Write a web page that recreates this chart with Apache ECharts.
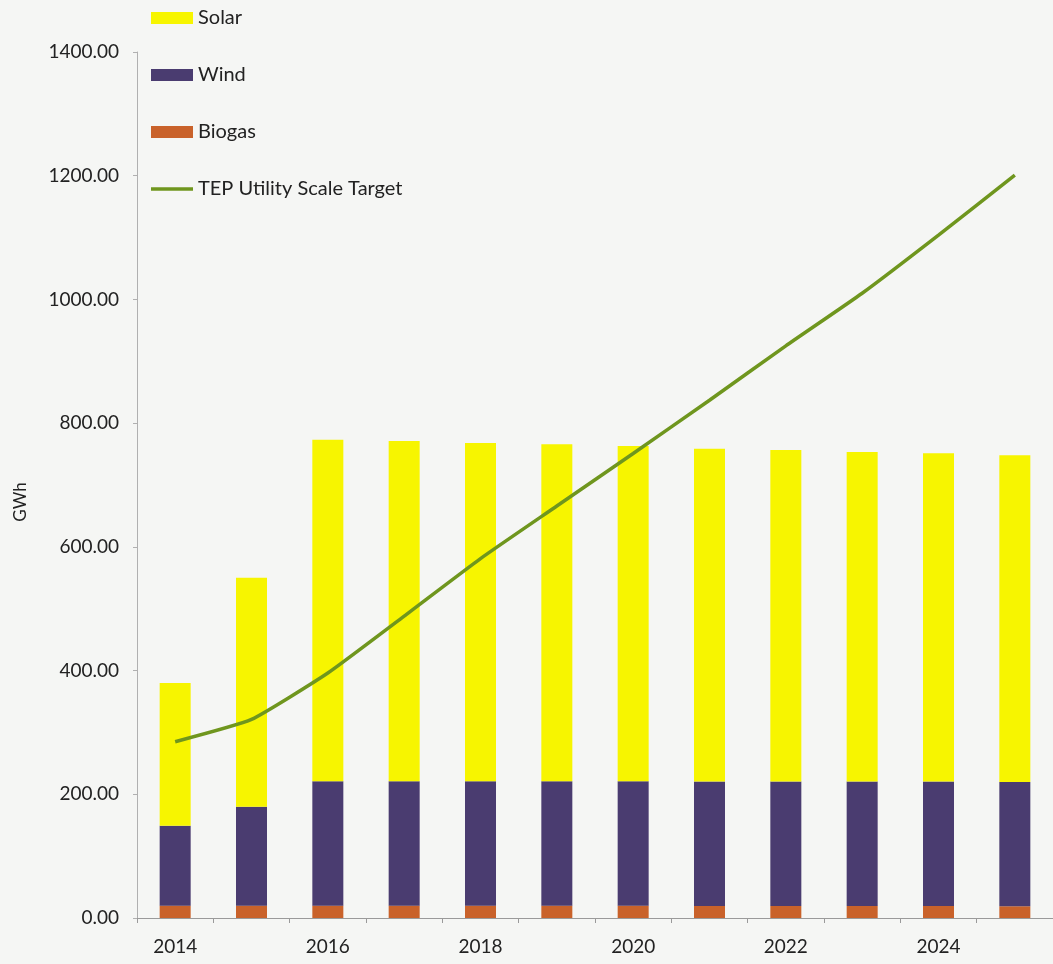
<!DOCTYPE html>
<html>
<head>
<meta charset="utf-8">
<script src="https://cdn.jsdelivr.net/npm/echarts@6/dist/echarts.min.js"></script>
<style>
  html, body { margin: 0; padding: 0; background: #f5f6f4; }
  #chart { width: 1053px; height: 964px; }
</style>
</head>
<body>
<div id="chart"></div>
<script>
const years = ['2014', '2015', '2016', '2017', '2018', '2019', '2020', '2021', '2022', '2023', '2024', '2025']
const biogas = [20, 20, 20, 20, 20, 20, 20, 19.5, 19.5, 19.5, 19.5, 19]
const wind = [129, 160, 201, 201, 201, 201, 201, 201, 201, 201, 201, 201]
const solar = [231, 370, 552, 550, 547, 545, 542, 538, 536, 533, 531, 528]
const target = [285, 321, 396, 488, 581, 666, 751, 837, 925, 1010, 1104, 1201]

const font = 'Lato, "Open Sans", sans-serif'
const myChart = echarts.init(document.getElementById('chart'))

myChart.setOption({
  backgroundColor: '#f5f6f4',
  animation: false,
  textStyle: { fontFamily: font, color: '#222' },
  legend: {
    orient: 'vertical',
    left: 151,
    top: 8,
    padding: 0,
    itemWidth: 42,
    itemHeight: 12,
    itemGap: 37,
    textStyle: { fontSize: 20, color: '#222', fontFamily: font },
    data: [
      { name: 'Solar', icon: 'rect' },
      { name: 'Wind', icon: 'rect' },
      { name: 'Biogas', icon: 'rect' },
      { name: 'TEP Utility Scale Target', icon: 'path://M0,0L42,0L42,3.5L0,3.5Z' }
    ]
  },
  grid: {
    left: 137,
    top: 52,
    width: 924,
    height: 866,
    containLabel: false
  },
  xAxis: {
    type: 'category',
    data: years,
    axisLine: { lineStyle: { color: '#9a9a9a', width: 1 } },
    axisTick: { show: true, interval: 0, length: 5, lineStyle: { color: '#9a9a9a' } },
    axisLabel: { interval: 1, fontSize: 19, color: '#222', margin: 19, fontFamily: font },
    splitLine: { show: false }
  },
  yAxis: {
    type: 'value',
    min: 0,
    max: 1400,
    interval: 200,
    name: 'GWh',
    nameLocation: 'middle',
    nameGap: 108,
    nameTextStyle: { fontSize: 17, color: '#222', fontFamily: font, padding: [0, 0, 0, -34] },
    axisLine: { show: true, lineStyle: { color: '#b0b0b0', width: 1 } },
    axisTick: { show: true, length: 4, lineStyle: { color: '#b0b0b0' } },
    axisLabel: {
      fontSize: 19,
      color: '#222',
      margin: 18,
      fontFamily: font,
      formatter: v => v.toFixed(2)
    },
    splitLine: { show: false }
  },
  series: [
    {
      name: 'Biogas',
      type: 'bar',
      stack: 'gen',
      barWidth: 31,
      itemStyle: { color: '#c9622a' },
      data: biogas
    },
    {
      name: 'Wind',
      type: 'bar',
      stack: 'gen',
      barWidth: 31,
      itemStyle: { color: '#4a3c70' },
      data: wind
    },
    {
      name: 'Solar',
      type: 'bar',
      stack: 'gen',
      barWidth: 31,
      itemStyle: { color: '#f7f500' },
      data: solar
    },
    {
      name: 'TEP Utility Scale Target',
      type: 'line',
      symbol: 'none',
      smooth: 0.15,
      lineStyle: { color: '#6f961e', width: 3.5 },
      itemStyle: { color: '#6f961e' },
      data: target
    }
  ]
})
</script>
</body>
</html>
